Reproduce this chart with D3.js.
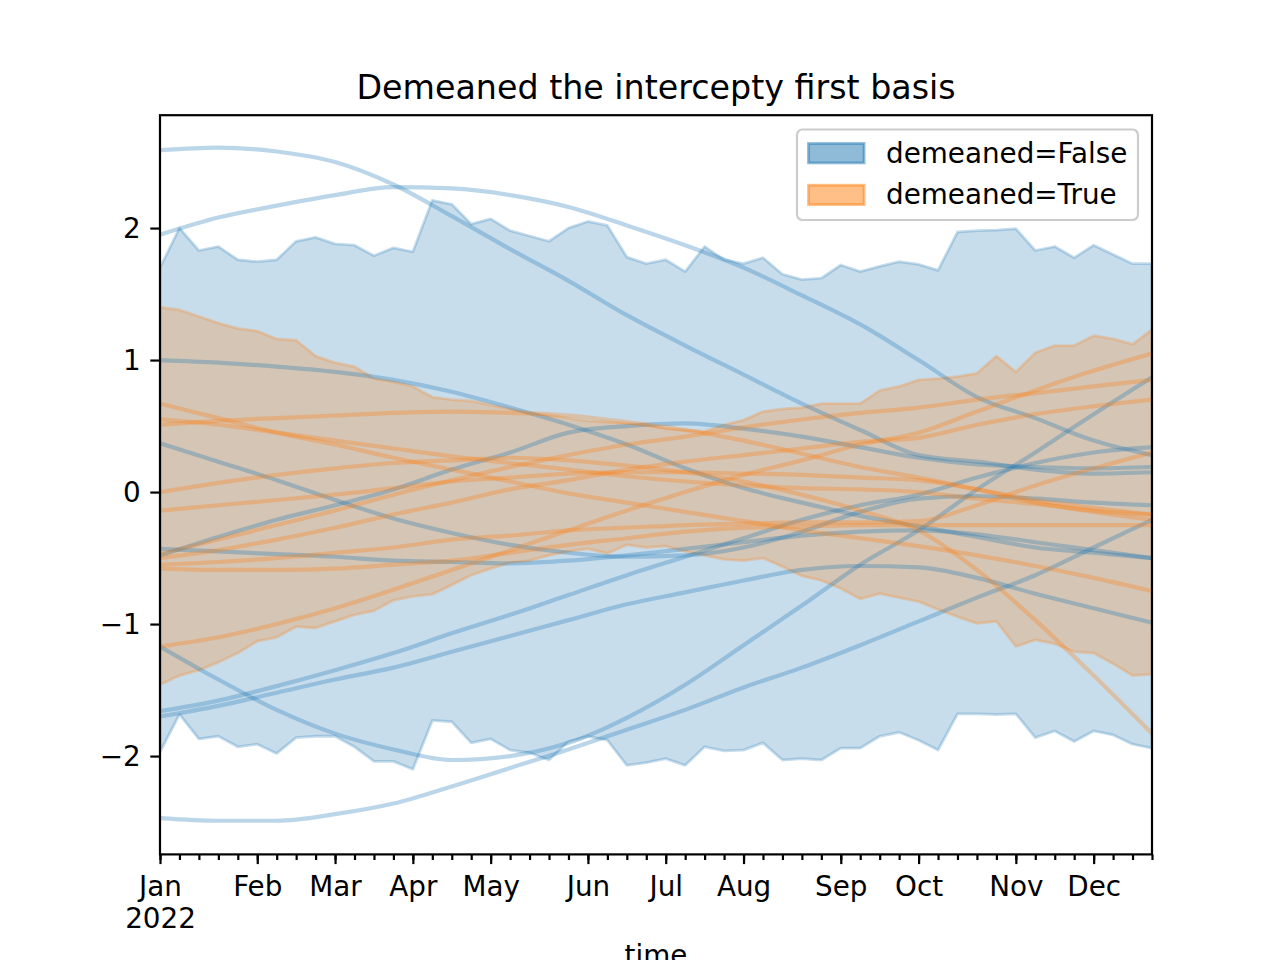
<!DOCTYPE html>
<html>
<head>
<meta charset="utf-8">
<script src="https://cdn.jsdelivr.net/npm/d3@7"></script>
<style>
  body { margin: 0; background: #fff; }
  text { font-family: "DejaVu Sans", sans-serif; }
</style>
</head>
<body>
<svg id="chart"></svg>
<script>
// weekly periods, Jan 2022 .. Dec 2022 (52 weeks)
const monthTicks = [0, 5, 9, 13, 17, 22, 26, 30, 35, 39, 44, 48];
const monthLabels = ["Jan\n2022", "Feb", "Mar", "Apr", "May", "Jun", "Jul", "Aug", "Sep", "Oct", "Nov", "Dec"];
const yTicks = [-2, -1, 0, 1, 2];

// band edges (min / max over samples), one value per week
const falseUpper = [1.70, 2.00, 1.83, 1.86, 1.76, 1.745, 1.76, 1.90, 1.93, 1.88,
  1.87, 1.79, 1.85, 1.82, 2.21, 2.18, 2.03, 2.07, 1.98, 1.94,
  1.90, 2.00, 2.05, 2.02, 1.78, 1.73, 1.76, 1.67, 1.86, 1.76,
  1.73, 1.775, 1.65, 1.61, 1.62, 1.72, 1.67, 1.71, 1.745, 1.725,
  1.68, 1.97, 1.98, 1.985, 1.995, 1.83, 1.86, 1.775, 1.87, 1.80,
  1.73, 1.73];
const falseLower = [-1.97, -1.685, -1.87, -1.85, -1.93, -1.91, -1.98, -1.86, -1.85, -1.85,
  -1.93, -2.04, -2.04, -2.10, -1.73, -1.74, -1.90, -1.87, -1.955, -1.975,
  -2.03, -1.89, -1.85, -1.88, -2.07, -2.05, -2.02, -2.07, -1.93, -1.96,
  -1.955, -1.90, -2.03, -2.02, -2.03, -1.94, -1.94, -1.85, -1.82, -1.88,
  -1.955, -1.68, -1.68, -1.685, -1.68, -1.86, -1.81, -1.89, -1.81, -1.84,
  -1.91, -1.94];
const trueUpper = [1.40, 1.38, 1.33, 1.28, 1.24, 1.22, 1.16, 1.15, 1.03, 0.98,
  0.95, 0.86, 0.835, 0.80, 0.72, 0.70, 0.69, 0.66, 0.63, 0.60,
  0.58, 0.56, 0.54, 0.53, 0.52, 0.51, 0.48, 0.47, 0.46, 0.51,
  0.545, 0.61, 0.63, 0.64, 0.67, 0.67, 0.67, 0.77, 0.80, 0.85,
  0.86, 0.875, 0.90, 1.03, 0.91, 1.055, 1.11, 1.11, 1.185, 1.16,
  1.12, 1.23];
const trueLower = [-1.46, -1.39, -1.35, -1.29, -1.22, -1.13, -1.10, -1.02, -1.03, -0.98,
  -0.93, -0.90, -0.82, -0.79, -0.775, -0.705, -0.63, -0.58, -0.535, -0.52,
  -0.48, -0.45, -0.43, -0.465, -0.40, -0.42, -0.41, -0.45, -0.48, -0.51,
  -0.52, -0.50, -0.565, -0.635, -0.67, -0.73, -0.81, -0.77, -0.80, -0.83,
  -0.89, -0.945, -0.995, -0.98, -1.17, -1.12, -1.15, -1.21, -1.22, -1.30,
  -1.39, -1.38];

// individual sample curves, read every 3 weeks
const sampleWeeks = [0, 3, 6, 9, 12, 15, 18, 21, 24, 27, 30, 33, 36, 39, 42, 45, 48, 51];
const falseSamples = [
  [2.59, 2.61, 2.58, 2.50, 2.33, 2.09, 1.84, 1.60, 1.34, 1.11, 0.89, 0.67, 0.47, 0.28, 0.23, 0.17, 0.14, 0.15],
  [1.95, 2.08, 2.17, 2.25, 2.31, 2.30, 2.25, 2.16, 2.02, 1.87, 1.70, 1.49, 1.27, 1.00, 0.72, 0.56, 0.39, 0.28],
  [1.00, 0.98, 0.95, 0.91, 0.85, 0.76, 0.64, 0.51, 0.36, 0.18, 0.03, -0.08, -0.18, -0.26, -0.34, -0.42, -0.46, -0.50],
  [0.37, 0.23, 0.09, -0.06, -0.20, -0.31, -0.40, -0.46, -0.49, -0.48, -0.42, -0.30, -0.15, -0.05, -0.03, -0.05, -0.08, -0.10],
  [-0.43, -0.45, -0.47, -0.49, -0.52, -0.53, -0.54, -0.52, -0.48, -0.43, -0.38, -0.33, -0.30, -0.29, -0.32, -0.38, -0.44, -0.50],
  [-0.48, -0.34, -0.21, -0.10, 0.02, 0.17, 0.30, 0.45, 0.50, 0.52, 0.48, 0.42, 0.34, 0.26, 0.21, 0.19, 0.18, 0.19],
  [-1.66, -1.58, -1.47, -1.35, -1.22, -1.07, -0.93, -0.78, -0.63, -0.49, -0.35, -0.21, -0.10, -0.02, 0.11, 0.22, 0.30, 0.34],
  [-1.70, -1.62, -1.52, -1.42, -1.33, -1.21, -1.09, -0.97, -0.85, -0.76, -0.67, -0.59, -0.56, -0.57, -0.65, -0.77, -0.88, -0.99],
  [-1.17, -1.42, -1.65, -1.83, -1.95, -2.03, -2.00, -1.90, -1.71, -1.46, -1.16, -0.86, -0.55, -0.29, 0.02, 0.30, 0.59, 0.87],
  [-2.47, -2.49, -2.49, -2.44, -2.36, -2.23, -2.09, -1.95, -1.80, -1.65, -1.48, -1.33, -1.16, -0.98, -0.80, -0.63, -0.42, -0.21]
];
const trueSamples = [
  [0.67, 0.56, 0.45, 0.36, 0.26, 0.17, 0.08, -0.01, -0.08, -0.15, -0.22, -0.29, -0.35, -0.41, -0.48, -0.56, -0.65, -0.75],
  [0.55, 0.51, 0.45, 0.39, 0.33, 0.27, 0.22, 0.17, 0.12, 0.08, 0.05, 0.03, 0.02, 0.00, -0.05, -0.09, -0.14, -0.17],
  [0.51, 0.54, 0.56, 0.58, 0.60, 0.61, 0.60, 0.58, 0.53, 0.47, 0.39, 0.29, 0.19, 0.11, 0.02, -0.08, -0.15, -0.21],
  [0.00, 0.07, 0.13, 0.18, 0.22, 0.24, 0.26, 0.24, 0.20, 0.15, 0.08, -0.02, -0.14, -0.29, -0.59, -0.97, -1.39, -1.83],
  [-0.14, -0.10, -0.06, -0.02, 0.03, 0.08, 0.11, 0.14, 0.15, 0.15, 0.14, 0.13, 0.11, 0.09, 0.02, -0.06, -0.12, -0.17],
  [-0.47, -0.36, -0.25, -0.14, -0.02, 0.09, 0.19, 0.28, 0.36, 0.42, 0.49, 0.55, 0.60, 0.64, 0.70, 0.75, 0.80, 0.85],
  [-0.50, -0.44, -0.36, -0.27, -0.17, -0.08, 0.02, 0.09, 0.17, 0.23, 0.28, 0.33, 0.38, 0.41, 0.51, 0.59, 0.65, 0.70],
  [-0.55, -0.53, -0.50, -0.46, -0.42, -0.36, -0.33, -0.29, -0.27, -0.25, -0.24, -0.23, -0.23, -0.22, -0.10, 0.05, 0.18, 0.30],
  [-0.58, -0.59, -0.59, -0.58, -0.55, -0.52, -0.46, -0.40, -0.35, -0.30, -0.27, -0.26, -0.25, -0.25, -0.25, -0.25, -0.25, -0.25],
  [-1.17, -1.10, -1.00, -0.88, -0.74, -0.59, -0.44, -0.29, -0.14, 0.00, 0.13, 0.24, 0.36, 0.45, 0.61, 0.77, 0.92, 1.05]
];
const seriesNames = ["demeaned=False", "demeaned=True"];

const width = 1280;
const height = 960;
const margin = { top: 115.2, right: 128, bottom: 105.6, left: 160 };
const blue = "#1f77b4";
const orange = "#ff7f0e";

const svg = d3.select("#chart")
  .attr("width", width)
  .attr("height", height);

const x = d3.scaleLinear()
  .domain([0, falseUpper.length - 1])
  .range([margin.left, width - margin.right]);

const y = d3.scaleLinear()
  .domain([-2.745, 2.855])
  .range([height - margin.bottom, margin.top]);

// clip to axes
svg.append("clipPath").attr("id", "clip")
  .append("rect")
  .attr("x", margin.left).attr("y", margin.top)
  .attr("width", width - margin.left - margin.right)
  .attr("height", height - margin.top - margin.bottom);

const plot = svg.append("g").attr("clip-path", "url(#clip)");

const area = (lo, hi) => d3.area()
  .x((_, i) => x(i))
  .y0((_, i) => y(lo[i]))
  .y1((_, i) => y(hi[i]))(lo);

const line = d3.line()
  .x((_, i) => x(sampleWeeks[i]))
  .y(d => y(d))
  .curve(d3.curveMonotoneX);

// bands
[[falseLower, falseUpper, blue], [trueLower, trueUpper, orange]].forEach(([lo, hi, c]) => {
  plot.append("path")
    .attr("d", area(lo, hi))
    .attr("fill", c).attr("fill-opacity", 0.25)
    .attr("stroke", c).attr("stroke-opacity", 0.25)
    .attr("stroke-width", 2.8)
    .attr("stroke-linejoin", "round");
});

// sample curves
[[falseSamples, blue], [trueSamples, orange]].forEach(([samples, c]) => {
  plot.selectAll(null)
    .data(samples)
    .enter()
    .append("path")
    .attr("d", d => line(d))
    .attr("fill", "none")
    .attr("stroke", c)
    .attr("stroke-opacity", 0.3)
    .attr("stroke-width", 4.2)
    .attr("stroke-linecap", "square");
});

// axes frame
svg.append("rect")
  .attr("x", margin.left).attr("y", margin.top)
  .attr("width", width - margin.left - margin.right)
  .attr("height", height - margin.top - margin.bottom)
  .attr("fill", "none").attr("stroke", "#000").attr("stroke-width", 2.2);

// minor x ticks (every week)
svg.append("g")
  .attr("transform", `translate(0,${height - margin.bottom})`)
  .call(d3.axisBottom(x).tickValues(falseUpper.map((_, i) => i)).tickSize(5.6).tickFormat(""))
  .call(g => g.select(".domain").remove())
  .call(g => g.selectAll("line").attr("stroke-width", 2.2));

// major x ticks
const xAxis = svg.append("g")
  .attr("transform", `translate(0,${height - margin.bottom})`)
  .call(d3.axisBottom(x).tickValues(monthTicks).tickSize(9.7).tickPadding(9.7)
    .tickFormat((_, i) => monthLabels[i]))
  .call(g => g.select(".domain").remove());
xAxis.selectAll("line").attr("stroke-width", 2.2);
xAxis.selectAll("text")
  .attr("font-size", 27.8).attr("fill", "#000")
  .each(function (d, i) {
    const parts = monthLabels[i].split("\n");
    const t = d3.select(this).text(null).attr("y", 0).attr("dy", null);
    parts.forEach((p, k) => t.append("tspan").attr("x", 0).attr("y", 41.5 + k * 32.2).text(p));
  });

// y axis
const yAxis = svg.append("g")
  .attr("transform", `translate(${margin.left},0)`)
  .call(d3.axisLeft(y).tickValues(yTicks).tickSize(9.7).tickPadding(9.7)
    .tickFormat(d => d < 0 ? "\u2212" + Math.abs(d) : d))
  .call(g => g.select(".domain").remove());
yAxis.selectAll("line").attr("stroke-width", 2.2);
yAxis.selectAll("text").attr("font-size", 27.8).attr("fill", "#000").attr("dy", "0.35em");

// title and label
svg.append("text")
  .attr("x", (margin.left + width - margin.right) / 2).attr("y", 98.5)
  .attr("text-anchor", "middle").attr("font-size", 33.3)
  .text("Demeaned the intercepty first basis");

svg.append("text")
  .attr("x", (margin.left + width - margin.right) / 2).attr("y", 965)
  .attr("text-anchor", "middle").attr("font-size", 27.8)
  .text("time");

// legend
const legend = svg.append("g").attr("transform", "translate(797,129.5)");
legend.append("rect")
  .attr("width", 341).attr("height", 90.5).attr("rx", 5.5)
  .attr("fill", "#fff").attr("fill-opacity", 0.8)
  .attr("stroke", "#cccccc").attr("stroke-width", 2.2);
seriesNames.forEach((name, i) => {
  const c = i === 0 ? blue : orange;
  legend.append("rect")
    .attr("x", 11.5).attr("y", 14 + i * 41.7).attr("width", 55.6).attr("height", 19.4)
    .attr("fill", c).attr("fill-opacity", 0.5)
    .attr("stroke", c).attr("stroke-opacity", 0.5).attr("stroke-width", 2.8);
  legend.append("text")
    .attr("x", 89).attr("y", 33 + i * 41.7)
    .attr("font-size", 27.8)
    .text(name);
});
</script>
</body>
</html>
